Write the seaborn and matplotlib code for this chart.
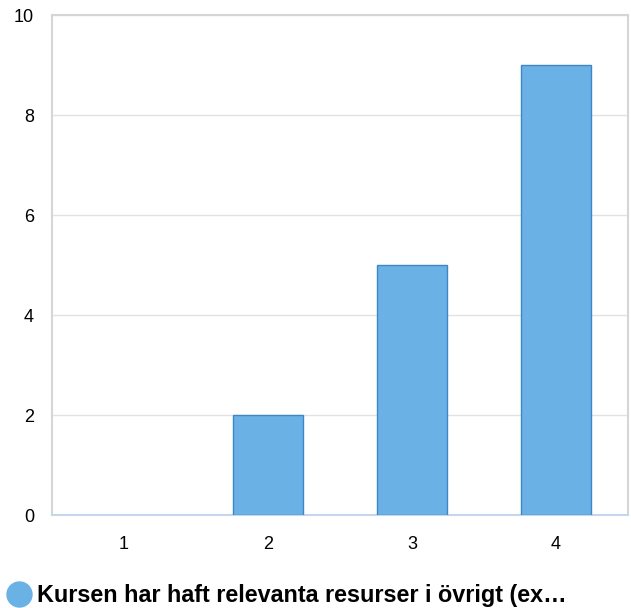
import matplotlib
matplotlib.use("Agg")
import matplotlib.pyplot as plt
import seaborn as sns
import pandas as pd
from matplotlib.lines import Line2D

# data
categories = ["1", "2", "3", "4"]
counts = [0, 2, 5, 9]
series_name = "Kursen har haft relevanta resurser i övrigt (ex…"

df = pd.DataFrame({"answer": categories, "count": counts})

sns.set_style("white")
plt.rcParams["font.family"] = ["Liberation Sans", "DejaVu Sans"]

fig = plt.figure(figsize=(6.31, 6.08), dpi=100)
ax = fig.add_axes([52 / 631, 1 - 515 / 608, 576 / 631, 500 / 608])

sns.barplot(data=df, x="answer", y="count", color="#6ab1e5", width=0.48,
            edgecolor="#3f86c6", linewidth=1.0, saturation=1, ax=ax, zorder=3)

# empty bars get no outline
for bar, c in zip(ax.patches, counts):
    if c == 0:
        bar.set_linewidth(0)

ax.set_ylim(0, 10)
ax.set_yticks([0, 2, 4, 6, 8, 10])
ax.yaxis.grid(True, color="#e2e2e2", linewidth=1, zorder=0)
ax.set_axisbelow(True)
ax.set_xlabel("")
ax.set_ylabel("")
ax.tick_params(axis="both", length=0, labelsize=13, colors="black")
ax.tick_params(axis="y", pad=13)
ax.tick_params(axis="x", pad=15)

for side in ["left", "top", "right"]:
    ax.spines[side].set_color("#d6d6d6")
    ax.spines[side].set_linewidth(1.5)
ax.spines["bottom"].set_color("#c6d6ec")
ax.spines["bottom"].set_linewidth(1.5)

handle = Line2D([], [], marker="o", linestyle="none", markersize=18,
                markerfacecolor="#6ab1e5", markeredgecolor="#6ab1e5")
leg = fig.legend([handle], [series_name], loc="lower left", bbox_to_anchor=(0.0015, 0.002),
                 frameon=False, handletextpad=0.0, handlelength=1.55, borderpad=0,
                 borderaxespad=0, prop={"size": 16.8, "weight": "bold"})
for t in leg.get_texts():
    t.set_color("black")

fig.savefig("out.png", dpi=100)
